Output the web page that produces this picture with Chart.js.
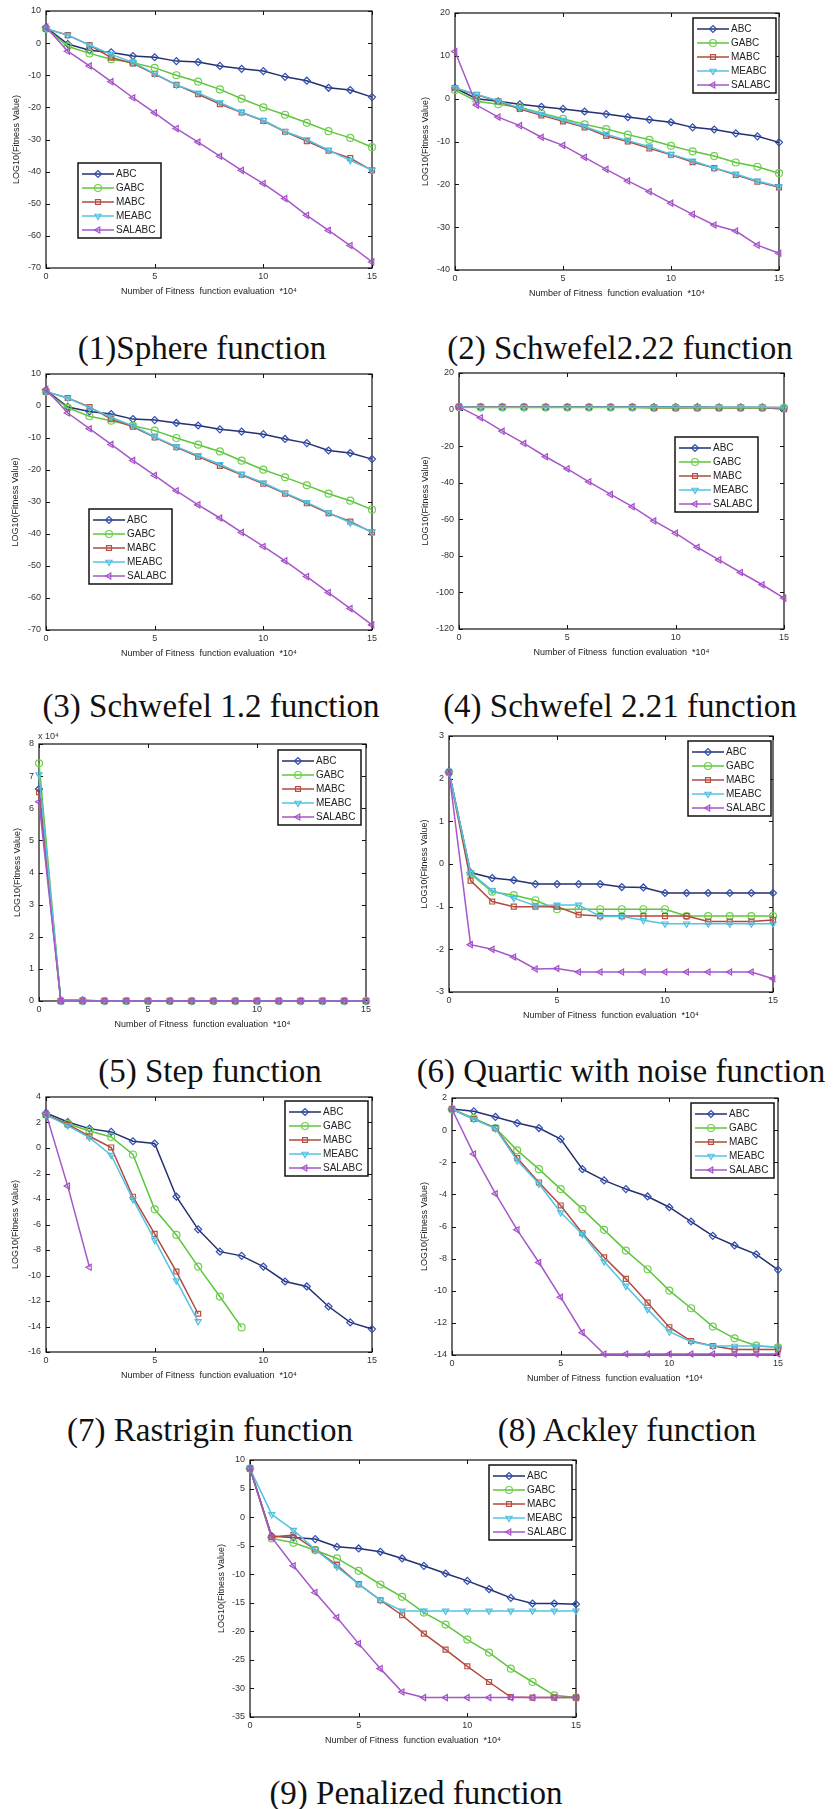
<!DOCTYPE html>
<html>
<head>
<meta charset="utf-8">
<script src="https://cdn.jsdelivr.net/npm/chart.js@4.4.1/dist/chart.umd.min.js"></script>
<style>
  body { margin: 0; background: #fff; width: 836px; height: 1809px; position: relative; overflow: hidden; }
  canvas { position: absolute; }
  .cap { position: absolute; white-space: nowrap; transform: translate(-50%, -50%);
         font-family: "Liberation Serif", "Times New Roman", serif; font-size: 33px; color: #111; }
</style>
</head>
<body>
<script>
// x positions (number of fitness evaluations, *10^4)
const xs = [0, 1, 2, 3, 4, 5, 6, 7, 8, 9, 10, 11, 12, 13, 14, 15];
const names = ['ABC', 'GABC', 'MABC', 'MEABC', 'SALABC'];

// (1) Sphere
const sphereABC    = [4.9, -0.3, -2.2, -2.9, -4.0, -4.4, -5.6, -5.9, -7.1, -8.0, -8.7, -10.5, -11.7, -13.9, -14.6, -16.8];
const sphereGABC   = [4.5, -1.0, -3.2, -5.0, -6.1, -7.7, -10.0, -12.0, -14.4, -17.3, -20.0, -22.3, -24.8, -27.4, -29.5, -32.4];
const sphereMABC   = [4.5, 2.5, -0.6, -4.5, -6.3, -9.6, -13.0, -15.9, -19.0, -21.6, -24.2, -27.6, -30.5, -33.5, -35.8, -39.6];
const sphereMEABC  = [4.5, 2.5, -0.6, -3.5, -6.0, -9.5, -13.0, -15.5, -18.5, -21.5, -24.0, -27.5, -30.0, -33.3, -36.5, -39.5];
const sphereSALABC = [5.0, -2.5, -7.1, -12.0, -17.0, -21.7, -26.6, -30.8, -35.2, -39.6, -43.7, -48.4, -53.6, -58.3, -63.0, -68.1];

// (2) Schwefel 2.22
const s222ABC    = [2.5, 0.0, -0.6, -1.3, -1.9, -2.4, -3.0, -3.6, -4.3, -4.9, -5.5, -6.7, -7.2, -8.1, -8.8, -10.2];
const s222GABC   = [2.0, -0.6, -1.3, -2.0, -3.4, -4.7, -6.0, -7.1, -8.4, -9.6, -11.0, -12.3, -13.4, -14.9, -15.9, -17.4];
const s222MABC   = [2.5, 0.9, -0.6, -2.4, -3.9, -5.3, -6.7, -8.7, -10.0, -11.6, -13.1, -14.8, -16.2, -17.8, -19.4, -20.7];
const s222MEABC  = [2.5, 1.0, -0.5, -2.2, -3.6, -5.0, -6.5, -8.3, -9.8, -11.2, -13.0, -14.5, -16.2, -17.6, -19.2, -20.5];
const s222SALABC = [11.0, -1.5, -4.3, -6.3, -9.0, -10.9, -13.7, -16.5, -19.2, -21.7, -24.4, -27.0, -29.5, -30.9, -34.2, -36.1];

// (3) Schwefel 1.2
const s12ABC    = [4.9, -0.3, -1.7, -2.5, -4.1, -4.4, -5.3, -6.1, -7.3, -8.0, -8.8, -10.3, -11.6, -13.9, -14.7, -16.6];
const s12GABC   = [4.5, -0.6, -3.2, -4.6, -6.2, -7.7, -10.0, -12.1, -14.2, -17.1, -19.9, -22.3, -24.8, -27.4, -29.6, -32.4];
const s12MABC   = [4.5, 2.5, -0.3, -4.1, -6.5, -9.8, -12.9, -15.8, -18.7, -21.5, -24.3, -27.4, -30.4, -33.5, -36.1, -39.5];
const s12MEABC  = [4.5, 2.5, -0.5, -3.5, -6.2, -9.6, -12.7, -15.5, -18.2, -21.3, -24.0, -27.2, -30.1, -33.3, -36.5, -39.3];
const s12SALABC = [5.2, -2.2, -7.1, -12.0, -17.0, -21.7, -26.5, -30.9, -35.0, -39.5, -43.9, -48.4, -53.3, -58.3, -63.3, -68.4];

// (4) Schwefel 2.21
const s221ABC    = [1.5, 1.4, 1.4, 1.4, 1.4, 1.4, 1.4, 1.4, 1.4, 1.4, 1.4, 1.4, 1.2, 1.2, 1.2, 1.2];
const s221GABC   = [1.3, 1.2, 1.2, 1.2, 1.2, 1.2, 1.2, 1.2, 1.2, 0.9, 0.9, 0.9, 0.9, 0.9, 0.9, 0.9];
const s221MABC   = [1.5, 1.5, 1.5, 1.5, 1.3, 1.3, 1.3, 1.3, 1.3, 1.1, 1.1, 1.1, 1.1, 1.1, 1.1, 0.2];
const s221MEABC  = [1.4, 1.3, 1.3, 1.3, 1.3, 1.3, 1.3, 1.3, 1.3, 1.3, 1.3, 1.3, 1.3, 1.3, 1.3, 0.9];
const s221SALABC = [1.5, -4.5, -11.8, -18.5, -25.8, -32.4, -39.5, -46.4, -53.1, -60.9, -67.6, -75.3, -82.2, -89.1, -95.8, -103.1];

// (5) Step (x 10^4)
const stepABC    = [6.6, 0.02, 0.02, 0, 0, 0, 0, 0, 0, 0, 0, 0, 0, 0, 0, 0];
const stepGABC   = [7.4, 0, 0, 0, 0, 0, 0, 0, 0, 0, 0, 0, 0, 0, 0, 0];
const stepMABC   = [6.5, 0, 0.01, 0, 0, 0, 0, 0, 0, 0, 0, 0, 0, 0, 0, 0];
const stepMEABC  = [7.05, 0, 0, 0, 0, 0, 0, 0, 0, 0, 0, 0, 0, 0, 0, 0];
const stepSALABC = [6.2, 0, 0, 0, 0, 0, 0, 0, 0, 0, 0, 0, 0, 0, 0, 0];

// (6) Quartic with noise
const quarABC    = [2.17, -0.2, -0.33, -0.38, -0.47, -0.47, -0.47, -0.47, -0.54, -0.55, -0.68, -0.68, -0.68, -0.68, -0.68, -0.68];
const quarGABC   = [2.15, -0.23, -0.65, -0.73, -0.85, -1.06, -1.06, -1.06, -1.06, -1.06, -1.06, -1.22, -1.22, -1.22, -1.22, -1.22];
const quarMABC   = [2.15, -0.39, -0.88, -1.0, -1.0, -1.0, -1.19, -1.22, -1.22, -1.22, -1.22, -1.22, -1.35, -1.35, -1.35, -1.31];
const quarMEABC  = [2.15, -0.2, -0.62, -0.8, -0.98, -0.96, -0.96, -1.23, -1.23, -1.32, -1.4, -1.4, -1.4, -1.4, -1.4, -1.4];
const quarSALABC = [2.15, -1.89, -2.0, -2.18, -2.46, -2.45, -2.53, -2.53, -2.53, -2.53, -2.53, -2.53, -2.53, -2.53, -2.53, -2.69];

// (7) Rastrigin
const rastABC    = [2.75, 2.04, 1.52, 1.26, 0.53, 0.35, -3.82, -6.38, -8.13, -8.46, -9.3, -10.47, -10.86, -12.43, -13.68, -14.2];
const rastGABC   = [2.6, 1.9, 1.34, 0.87, -0.51, -4.81, -6.82, -9.3, -11.65, -14.07, null, null, null, null, null, null];
const rastMABC   = [2.6, 1.84, 0.92, 0.04, -3.82, -6.74, -9.69, -13.0, null, null, null, null, null, null, null, null];
const rastMEABC  = [2.6, 1.76, 0.82, -0.56, -4.03, -7.21, -10.4, -13.6, null, null, null, null, null, null, null, null];
const rastSALABC = [2.7, -2.99, -9.35, null, null, null, null, null, null, null, null, null, null, null, null, null];

// (8) Ackley
const ackABC    = [1.31, 1.17, 0.82, 0.44, 0.13, -0.56, -2.43, -3.13, -3.67, -4.13, -4.8, -5.69, -6.58, -7.18, -7.73, -8.7];
const ackGABC   = [1.3, 0.75, 0.13, -1.26, -2.43, -3.67, -4.92, -6.21, -7.5, -8.66, -9.99, -11.09, -12.23, -12.96, -13.42, -13.52];
const ackMABC   = [1.3, 0.69, 0.13, -1.74, -3.26, -4.69, -6.42, -7.92, -9.26, -10.74, -12.27, -13.13, -13.44, -13.65, -13.65, -13.65];
const ackMEABC  = [1.3, 0.69, 0.1, -1.89, -3.34, -5.13, -6.48, -8.18, -9.7, -11.16, -12.55, -13.17, -13.44, -13.44, -13.44, -13.52];
const ackSALABC = [1.3, -1.49, -3.96, -6.21, -8.24, -10.4, -12.61, -13.94, -13.94, -13.94, -13.94, -13.94, -13.94, -13.94, -13.94, -13.94];

// (9) Penalized
const penABC    = [8.54, -3.33, -3.56, -3.85, -5.2, -5.49, -6.07, -7.24, -8.53, -9.87, -11.17, -12.62, -14.14, -15.13, -15.13, -15.25];
const penGABC   = [8.5, -3.73, -4.5, -5.79, -7.24, -9.4, -11.8, -13.96, -16.71, -18.81, -21.44, -23.72, -26.53, -28.87, -31.2, -31.6];
const penMABC   = [8.5, -3.5, -3.15, -5.67, -8.41, -11.74, -14.55, -17.18, -20.39, -23.2, -26.12, -28.87, -31.5, -31.6, -31.6, -31.6];
const penMEABC  = [8.5, 0.47, -2.27, -5.67, -8.7, -11.74, -14.55, -16.42, -16.42, -16.42, -16.42, -16.42, -16.42, -16.42, -16.42, -16.42];
const penSALABC = [8.5, -3.56, -8.53, -13.2, -17.59, -22.15, -26.53, -30.62, -31.6, -31.6, -31.6, -31.6, -31.6, -31.6, -31.6, -31.6];

// series look (MATLAB style markers)
const looks = [
  { line: '#25306c', mark: '#2f4fb5', style: 'rectRot', rot: 0 },
  { line: '#5cc63c', mark: '#6fd04c', style: 'circle', rot: 0 },
  { line: '#b04a3c', mark: '#b9503f', style: 'rect', rot: 0 },
  { line: '#55c3e3', mark: '#4fbfe0', style: 'triangle', rot: 180 },
  { line: '#a657c9', mark: '#a64fc8', style: 'triangle', rot: 270 },
];

// panels: plot area position on page, axis range, legend offset inside plot
const panels = [
  { cap: '(1)Sphere function', cx: 202, cy: 348, L: 46, T: 11, W: 326, H: 257,
    ymin: -70, ymax: 10, step: 10, ygap: 29, leg: [32, 152],
    series: [sphereABC, sphereGABC, sphereMABC, sphereMEABC, sphereSALABC] },
  { cap: '(2) Schwefel2.22 function', cx: 620, cy: 348, L: 455, T: 13, W: 324, H: 257,
    ymin: -40, ymax: 20, step: 10, ygap: 29, leg: [238, 5],
    series: [s222ABC, s222GABC, s222MABC, s222MEABC, s222SALABC] },
  { cap: '(3) Schwefel 1.2 function', cx: 211, cy: 706, L: 46, T: 374, W: 326, H: 256,
    ymin: -70, ymax: 10, step: 10, ygap: 30, leg: [43, 135],
    series: [s12ABC, s12GABC, s12MABC, s12MEABC, s12SALABC] },
  { cap: '(4) Schwefel 2.21 function', cx: 620, cy: 706, L: 459, T: 373, W: 325, H: 256,
    ymin: -120, ymax: 20, step: 20, ygap: 33, leg: [216, 64],
    series: [s221ABC, s221GABC, s221MABC, s221MEABC, s221SALABC] },
  { cap: '(5) Step function', cx: 210, cy: 1071, L: 39, T: 744, W: 327, H: 257,
    ymin: 0, ymax: 8, step: 1, ygap: 21, leg: [239, 6], exp: true,
    series: [stepABC, stepGABC, stepMABC, stepMEABC, stepSALABC] },
  { cap: '(6) Quartic with noise function', cx: 621, cy: 1071, L: 449, T: 736, W: 324, H: 256,
    ymin: -3, ymax: 3, step: 1, ygap: 24, leg: [239, 5],
    series: [quarABC, quarGABC, quarMABC, quarMEABC, quarSALABC] },
  { cap: '(7) Rastrigin function', cx: 210, cy: 1430, L: 46, T: 1097, W: 326, H: 255,
    ymin: -16, ymax: 4, step: 2, ygap: 30, leg: [239, 4],
    series: [rastABC, rastGABC, rastMABC, rastMEABC, rastSALABC] },
  { cap: '(8) Ackley function', cx: 627, cy: 1430, L: 452, T: 1098, W: 326, H: 257,
    ymin: -14, ymax: 2, step: 2, ygap: 27, leg: [239, 5],
    series: [ackABC, ackGABC, ackMABC, ackMEABC, ackSALABC] },
  { cap: '(9) Penalized function', cx: 416, cy: 1793, L: 250, T: 1460, W: 326, H: 257,
    ymin: -35, ymax: 10, step: 5, ygap: 28, leg: [239, 5],
    series: [penABC, penGABC, penMABC, penMEABC, penSALABC] },
];

Chart.defaults.font.family = '"Liberation Sans", Arial, sans-serif';
Chart.defaults.font.size = 9;
Chart.defaults.color = '#333';

// MATLAB-like box: frame, inward ticks on all sides, legend inside the axes
const matlabBox = {
  id: 'matlabBox',
  beforeDatasetsDraw(chart) {
    const { ctx, chartArea: a, scales: { x, y } } = chart;
    ctx.save();
    ctx.strokeStyle = '#161010';
    ctx.lineWidth = 1.2;
    ctx.strokeRect(a.left, a.top, a.right - a.left, a.bottom - a.top);
    ctx.lineWidth = 1;
    ctx.beginPath();
    x.ticks.forEach(t => {
      const px = Math.round(x.getPixelForValue(t.value)) + 0.5;
      ctx.moveTo(px, a.bottom); ctx.lineTo(px, a.bottom - 4);
      ctx.moveTo(px, a.top); ctx.lineTo(px, a.top + 4);
    });
    y.ticks.forEach(t => {
      const py = Math.round(y.getPixelForValue(t.value)) + 0.5;
      ctx.moveTo(a.left, py); ctx.lineTo(a.left + 4, py);
      ctx.moveTo(a.right, py); ctx.lineTo(a.right - 4, py);
    });
    ctx.stroke();
    ctx.restore();
  },
  afterDatasetsDraw(chart, args, opts) {
    const { ctx, chartArea: a } = chart;
    ctx.save();
    if (opts.exp) {
      ctx.fillStyle = '#333';
      ctx.font = '9px "Liberation Sans", Arial';
      ctx.textAlign = 'left';
      ctx.textBaseline = 'middle';
      ctx.fillText('x 10\u2074', a.left - 1, a.top - 7);
    }
    const bx = a.left + opts.leg[0], by = a.top + opts.leg[1];
    ctx.fillStyle = '#fff';
    ctx.fillRect(bx, by, 83, 75);
    ctx.strokeStyle = '#161010';
    ctx.lineWidth = 1.5;
    ctx.strokeRect(bx, by, 83, 75);
    ctx.font = '10px "Liberation Sans", Arial';
    ctx.textAlign = 'left';
    ctx.textBaseline = 'middle';
    chart.data.datasets.forEach((ds, i) => {
      const yy = by + 11 + i * 14;
      ctx.strokeStyle = ds.borderColor;
      ctx.lineWidth = 1.5;
      ctx.beginPath();
      ctx.moveTo(bx + 4, yy); ctx.lineTo(bx + 36, yy);
      ctx.stroke();
      ctx.strokeStyle = ds.pointBorderColor;
      ctx.fillStyle = 'rgba(0,0,0,0)';
      ctx.lineWidth = 1.2;
      Chart.helpers.drawPoint(ctx, { pointStyle: ds.pointStyle, rotation: ds.pointRotation, radius: 3.5, borderWidth: 1.2 }, bx + 20, yy);
      ctx.fillStyle = '#222';
      ctx.fillText(ds.label, bx + 38, yy + 0.5);
    });
    ctx.restore();
  }
};
Chart.register(matlabBox);

const YW = 50, PT = 14, PR = 14, XH = 34;

panels.forEach(p => {
  const cap = document.createElement('div');
  cap.className = 'cap';
  cap.textContent = p.cap;
  cap.style.left = p.cx + 'px';
  cap.style.top = p.cy + 'px';
  document.body.appendChild(cap);

  const cv = document.createElement('canvas');
  cv.width = p.W + YW + PR;
  cv.height = p.H + PT + XH;
  cv.style.left = (p.L - YW) + 'px';
  cv.style.top = (p.T - PT) + 'px';
  document.body.appendChild(cv);

  const datasets = p.series.map((vals, i) => ({
    label: names[i],
    data: vals.map((v, k) => ({ x: xs[k], y: v })),
    borderColor: looks[i].line,
    borderWidth: 1.5,
    pointStyle: looks[i].style,
    pointRotation: looks[i].rot,
    pointRadius: 3.5,
    pointBorderWidth: 1.2,
    pointBorderColor: looks[i].mark,
    pointBackgroundColor: 'rgba(0,0,0,0)',
    tension: 0,
    spanGaps: false,
    clip: false,
    order: 5 - i
  }));

  new Chart(cv, {
    type: 'line',
    data: { datasets },
    options: {
      responsive: false,
      animation: false,
      layout: { padding: { left: 0, top: PT, right: PR, bottom: 0 } },
      plugins: {
        legend: { display: false },
        tooltip: { enabled: false },
        matlabBox: { leg: p.leg, exp: !!p.exp }
      },
      scales: {
        x: {
          type: 'linear', min: 0, max: 15,
          grid: { display: false, drawTicks: false },
          border: { display: false },
          ticks: { stepSize: 5, padding: 3, color: '#333' },
          title: { display: true, text: 'Number of Fitness  function evaluation  *10\u2074',
                   color: '#222', font: { size: 9 }, padding: { top: 0, bottom: 4.6 } },
          afterFit: s => { s.height = XH; }
        },
        y: {
          min: p.ymin, max: p.ymax,
          grid: { display: false, drawTicks: false },
          border: { display: false },
          ticks: { stepSize: p.step, padding: 5, color: '#333' },
          title: { display: true, text: 'LOG10(Fitness Value)', color: '#222',
                   font: { size: 9 }, padding: { top: YW - p.ygap - 5.4, bottom: 0 } },
          afterFit: s => { s.width = YW; }
        }
      }
    }
  });
});
</script>
</body>
</html>
